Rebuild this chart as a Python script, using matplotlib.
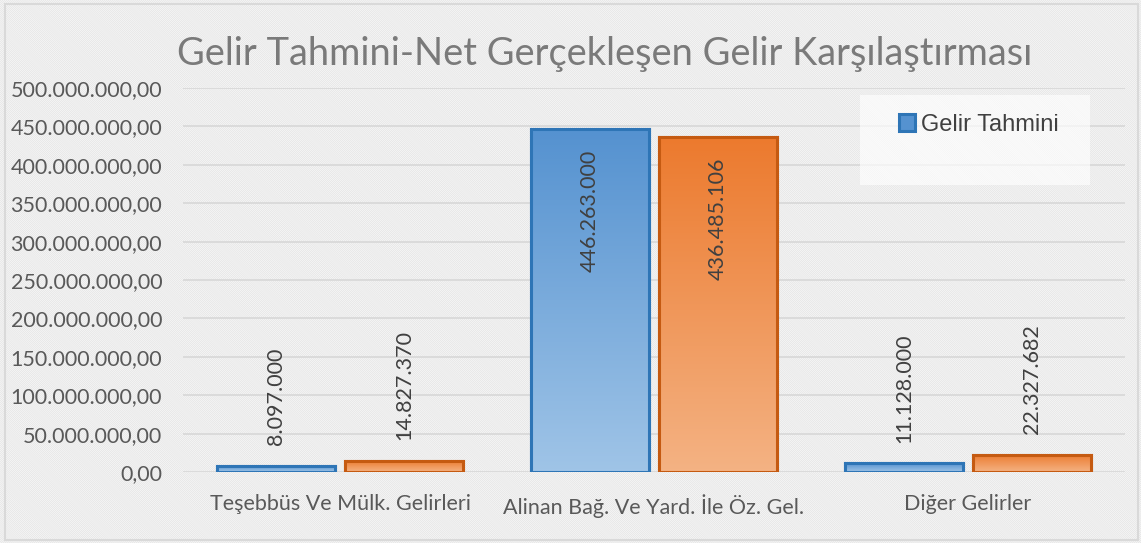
import numpy as np
import matplotlib
matplotlib.use("Agg")
import matplotlib.pyplot as plt
from matplotlib.patches import Rectangle
from matplotlib.colors import LinearSegmentedColormap

categories = ["Teşebbüs Ve Mülk. Gelirleri", "Alinan Bağ. Ve Yard. İle Öz. Gel.", "Diğer Gelirler"]
gelir_tahmini = [8097000, 446263000, 11128000]
net_gelir = [14827370, 436485106, 22327682]
series_names = ["Gelir Tahmini", "Net Gerçekleşen Gelir"]
y_ticks = [0, 50e6, 100e6, 150e6, 200e6, 250e6, 300e6, 350e6, 400e6, 450e6, 500e6]


def tr_num(v, dec=0):
    s = f"{v:,.{dec}f}"
    return s.replace(",", "X").replace(".", ",").replace("X", ".")


plt.rcParams["hatch.linewidth"] = 0.6

fig = plt.figure(figsize=(11.41, 5.43), dpi=100)
fig.patch.set_facecolor("white")

# hatched chart background + frame
fig.add_artist(Rectangle((0, 0), 1, 1, transform=fig.transFigure, facecolor="#fdfdfd",
                         edgecolor="#e4e4e4", hatch="\\" * 17, lw=0, zorder=-2))
fig.add_artist(Rectangle((5 / 1141, 3 / 543), 1133 / 1141, 536 / 543, transform=fig.transFigure,
                         facecolor="none", edgecolor="#d9d9d9", lw=1.5, zorder=-1))

ax = fig.add_axes([183 / 1141, 71 / 543, 942 / 1141, 384 / 543])
ax.set_facecolor("none")

x = np.arange(len(categories))
w = 0.373
off = 0.204

styles = [
    dict(top="#5592d0", bottom="#9fc4e7", edge="#2e75b6"),
    dict(top="#ec7a2e", bottom="#f4b283", edge="#c55a11"),
]

handles = []
for vals, offset, st in zip([gelir_tahmini, net_gelir], [-off, off], styles):
    bars = ax.bar(x + offset, vals, w, color=st["top"], edgecolor=st["edge"], lw=2.2, zorder=2)
    handles.append(bars)
    cmap = LinearSegmentedColormap.from_list("g", [st["top"], st["bottom"]])
    for b in bars:
        x0, h = b.get_x(), b.get_height()
        ax.imshow(np.linspace(0, 1, 100).reshape(-1, 1), extent=[x0, x0 + b.get_width(), 0, h],
                  aspect="auto", cmap=cmap, zorder=2.5, interpolation="bilinear")
    ax.bar(x + offset, vals, w, facecolor="none", edgecolor=st["edge"], lw=2.2, zorder=3)
    for xi, v in zip(x + offset, vals):
        if v > 300e6:
            ax.annotate(tr_num(v), (xi, v), xytext=(0, -15), textcoords="offset points",
                        rotation=90, ha="center", va="top", fontsize=15.5,
                        family="Lato", color="#404040", zorder=4)
        else:
            ax.annotate(tr_num(v), (xi, v), xytext=(0, 15), textcoords="offset points",
                        rotation=90, ha="center", va="bottom", fontsize=15.5,
                        family="Lato", color="#404040", zorder=4)

ax.set_xlim(-0.5, 2.5)
ax.set_ylim(0, 500e6)
ax.set_yticks(y_ticks)
ax.set_yticklabels([tr_num(t, 2) for t in y_ticks], family="Lato", fontsize=15.5, color="#595959")
ax.set_xticks(x)
ax.set_xticklabels(categories, family="Lato", fontsize=15.5, color="#595959")
ax.tick_params(axis="both", length=0)
ax.tick_params(axis="y", pad=15)
ax.tick_params(axis="x", pad=16)
ax.grid(axis="y", color="#d9d9d9", lw=1.3, zorder=0)
ax.set_axisbelow(True)
for s in ax.spines.values():
    s.set_visible(False)

fig.text(605 / 1141, 1 - 54 / 543, "Gelir Tahmini-Net Gerçekleşen Gelir Karşılaştırması",
         ha="center", va="center", fontsize=27.4, family="Lato", color="#7a7a7a")

# legend box (second entry hidden behind its edge as in the original)
fig.add_artist(Rectangle((860 / 1141, 1 - 185 / 543), 230 / 1141, 90 / 543, transform=fig.transFigure,
                         facecolor="white", edgecolor="none", alpha=0.65, zorder=5))
leg = fig.legend(handles[:1], series_names[:1], loc="center left",
                 bbox_to_anchor=(887 / 1141, 1 - 125 / 543), frameon=False,
                 prop={"family": "Liberation Sans", "size": 17}, handlelength=0.7,
                 handleheight=0.7, handletextpad=0.25, borderpad=0)
for t in leg.get_texts():
    t.set_color("#404040")
leg.set_zorder(6)

fig.savefig("out.png", dpi=100)
